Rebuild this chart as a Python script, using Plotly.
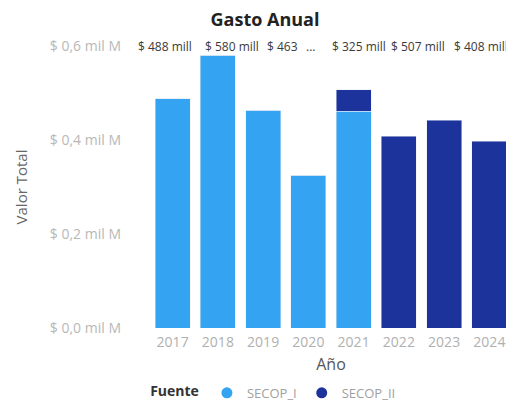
import plotly.graph_objects as go

years = ["2017", "2018", "2019", "2020", "2021", "2022", "2023", "2024"]
secop_i = [0.488, 0.580, 0.463, 0.325, 0.461, 0, 0, 0]
secop_ii = [0, 0, 0, 0, 0.046, 0.408, 0.442, 0.397]
y_ticks = [0.0, 0.2, 0.4, 0.6]
y_tick_labels = ["$ 0,0 mil M", "$ 0,2 mil M", "$ 0,4 mil M", "$ 0,6 mil M"]

C1 = "#33a3f2"
C2 = "#1c339c"
FONT = "Open Sans"

totals = [a + b for a, b in zip(secop_i, secop_ii)]
label_texts = [f"$ {round(t * 1000)} mill" for t in totals]

fig = go.Figure()
fig.add_trace(go.Bar(x=years, y=secop_i, name="SECOP_I", marker_color=C1, showlegend=False))
fig.add_trace(go.Bar(x=years, y=secop_ii, name="SECOP_II", marker_color=C2, showlegend=False))
# legend entries with circular markers
fig.add_trace(go.Scatter(x=[years[0]], y=[None], mode="markers", name="SECOP_I",
                         marker=dict(color=C1, size=11, symbol="circle")))
fig.add_trace(go.Scatter(x=[years[0]], y=[None], mode="markers", name="SECOP_II",
                         marker=dict(color=C2, size=11, symbol="circle")))

# top data-label row (as displayed, overlapping/truncated)
placements = [  # (label index, anchor category index, xshift, text override)
    (0, 0, -8, None),
    (1, 1, 14, None),
    (2, 2, 19, "$ 463"),
    (None, 3, 2, "..."),
    (3, 4, 5, None),
    (4, 5, 19, None),
    (5, 6, 37, None),
]
for li, ci, xs, txt in placements:
    text = txt if txt is not None else label_texts[li]
    fig.add_annotation(x=ci, y=0.6, xref="x", yref="y", text=text, showarrow=False,
                       xshift=xs, font=dict(family=FONT, size=12, color="#3a3a3a"))

fig.update_layout(
    width=514, height=403,
    margin=dict(l=142, r=10, t=38, b=83, autoexpand=False),
    paper_bgcolor="white", plot_bgcolor="white",
    barmode="stack", bargap=0.23,
    title=dict(text="<b>Gasto Anual</b>", x=0.5, xanchor="center", y=0.972, yanchor="middle",
               font=dict(family=FONT, size=18, color="#222222")),
    font=dict(family=FONT),
    legend=dict(orientation="h", x=-0.005, xanchor="left", y=-0.177, yanchor="top",
                traceorder="normal",
                title=dict(text="<b>Fuente</b>", font=dict(family=FONT, size=14, color="#333333")),
                font=dict(family=FONT, size=13, color="#a0a0a0"),
                itemwidth=30, tracegroupgap=0),
)
fig.update_xaxes(type="category", categoryorder="array", categoryarray=years, range=[-0.5, 7.5],
                 automargin=False, showgrid=False, showline=False, ticks="", ticklabelstandoff=4,
                 tickfont=dict(family=FONT, size=14, color="#b0b0b0"),
                 title=dict(text="Año", font=dict(family=FONT, size=16, color="#555555"), standoff=8))
fig.update_yaxes(range=[0, 0.6], tickvals=y_ticks, ticktext=y_tick_labels, showgrid=False,
                 automargin=False, zeroline=False, showline=False, ticks="", ticklabelstandoff=28,
                 tickfont=dict(family=FONT, size=14, color="#b8b8b8"),
                 title=dict(text="Valor Total", font=dict(family=FONT, size=15, color="#666666"), standoff=18))

fig.write_html("out.html")
